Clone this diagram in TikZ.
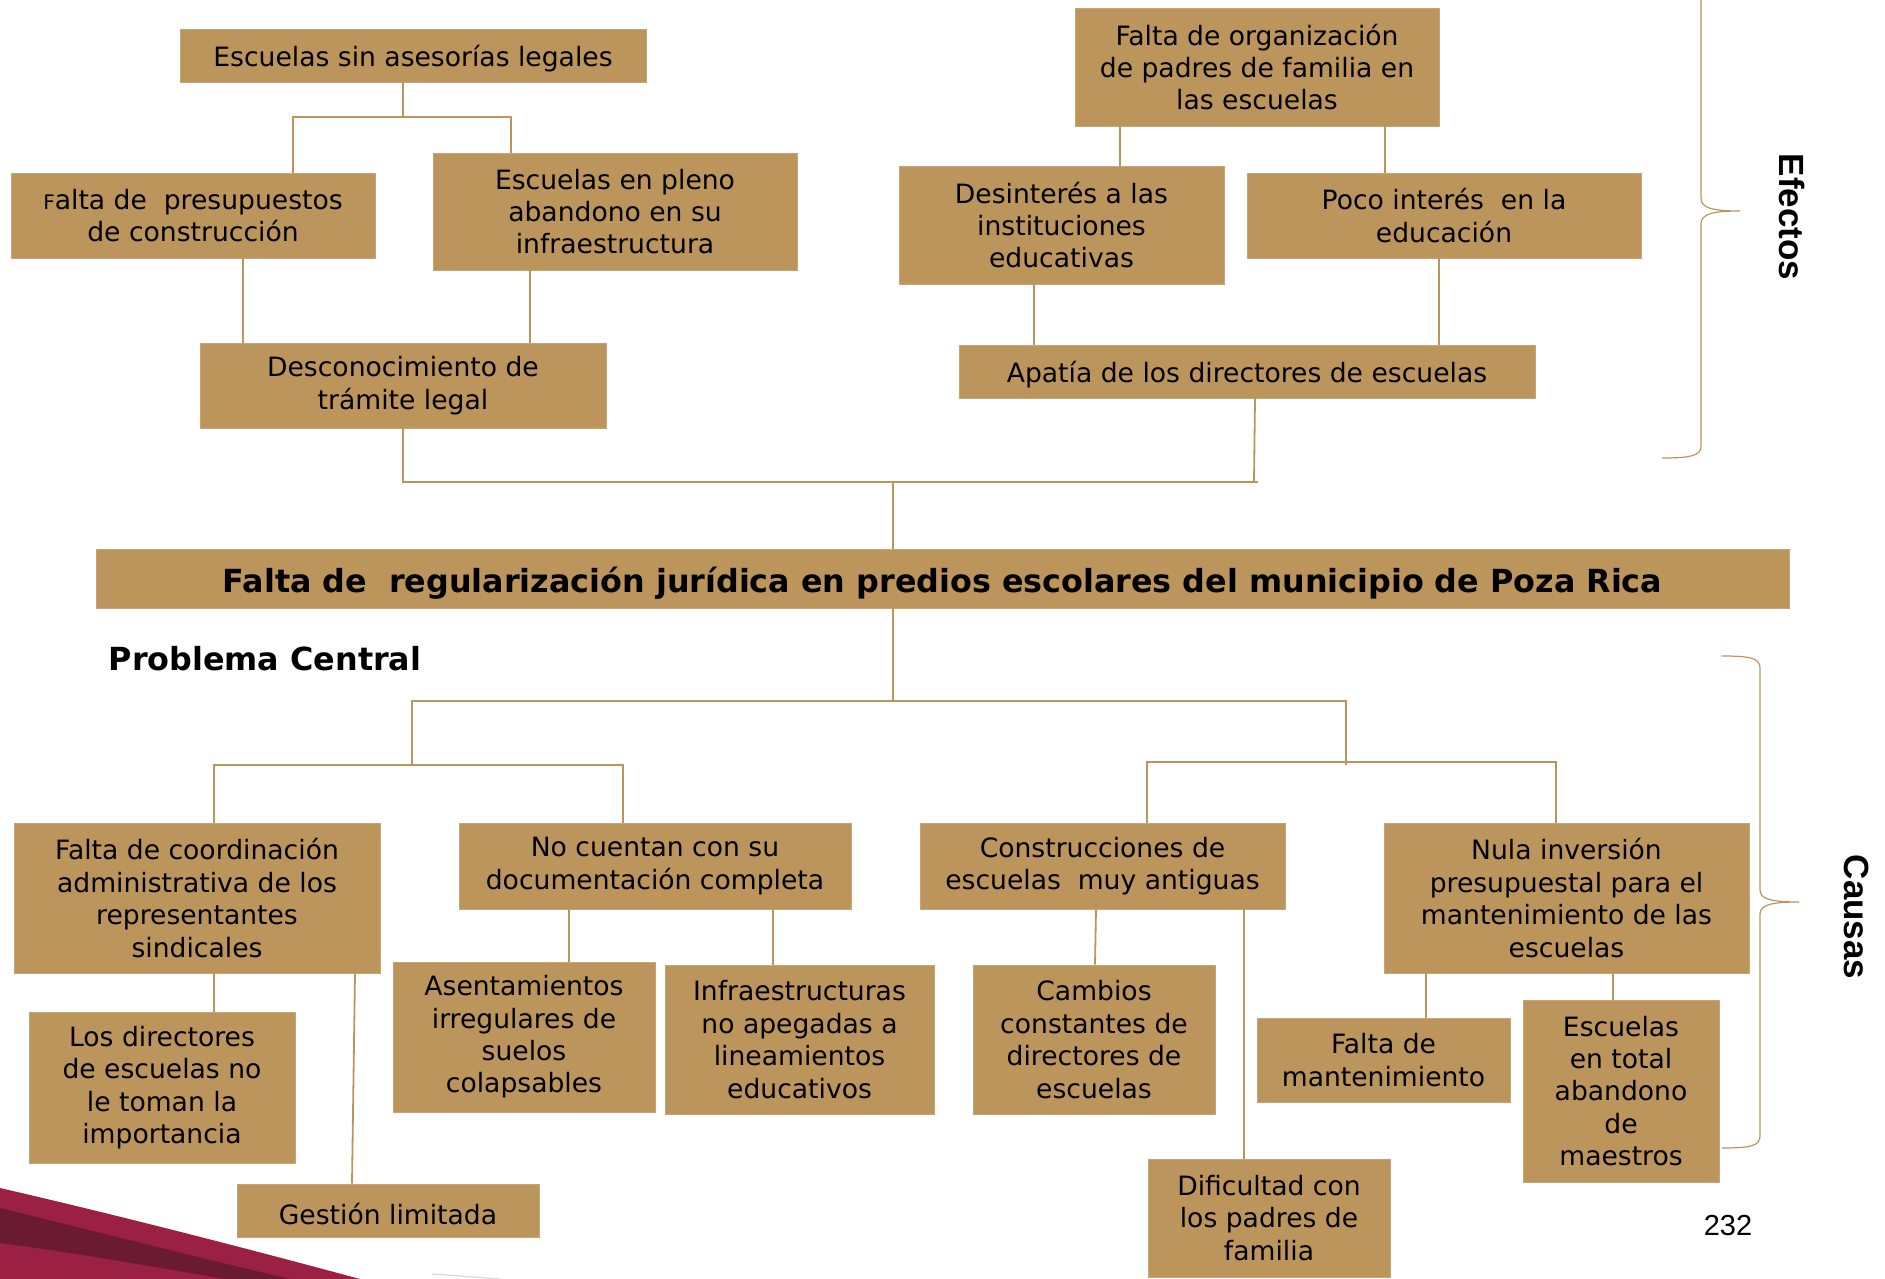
\documentclass[tikz,border=0pt]{standalone}
\usepackage{fontspec}
\setmainfont{DejaVu Sans}
\newfontfamily\arialfam{Liberation Sans}
\usetikzlibrary{calc}
\definecolor{tierra}{RGB}{188,149,93}
\definecolor{guinda}{RGB}{155,32,68}
\definecolor{vino}{RGB}{106,26,50}
\tikzset{
  caja/.style={fill=tierra,draw=tierra!85!white,line width=0.4pt,inner sep=1pt,
    align=center,text=black,font=\fontsize{13.3}{16.2}\selectfont,
    execute at begin node={\rule{0pt}{1.0em}}},
  una/.style={execute at begin node={\rule{0pt}{1.07em}}},
  enlace/.style={draw=tierra,line width=0.9pt},
  llave/.style={draw=tierra,line width=0.6pt},
  titulo/.style={font=\fontsize{15.9}{19}\selectfont\bfseries},
  lado/.style={font=\arialfam\fontsize{17.5}{20}\selectfont\bfseries,rotate=-90},
}
\begin{document}
\begin{tikzpicture}[x=0.5pt,y=-0.5pt]
  \useasboundingbox (0,0) rectangle (1885,1279);
  \clip (0,0) rectangle (1885,1279);
  % franja
  \fill[guinda] (0,1188) .. controls (130,1218) and (260,1252) .. (360,1279) -- (0,1279) -- cycle;
  \fill[vino] (0,1208) .. controls (110,1235) and (200,1258) .. (290,1279) -- (225,1279) .. controls (150,1266) and (70,1252) .. (0,1243) -- cycle;
  \draw[black!15,line width=0.6pt] (432,1274) -- (500,1279);
  % efectos
  \node[caja,una,minimum width=233pt,minimum height=26.5pt] (legal) at (413,55.5) {Escuelas sin asesorías legales};
  \node[caja,minimum width=182pt,minimum height=59pt] (organiz) at (1257,67) {Falta de organización\\de padres de familia en\\las escuelas};
  \node[caja,minimum width=182pt,minimum height=42.5pt] (presup) at (193,215.5) {{\fontsize{10}{12}\selectfont F}alta de\ \ presupuestos\\de construcción};
  \node[caja,minimum width=182pt,minimum height=58.5pt] (abandono) at (615,211.5) {Escuelas en pleno\\abandono en su\\infraestructura};
  \node[caja,minimum width=162.5pt,minimum height=59pt] (desint) at (1061.5,225) {Desinterés a las\\instituciones\\educativas};
  \node[caja,minimum width=197pt,minimum height=42.5pt] (poco) at (1444,215.5) {Poco interés\ \ en la\\educación};
  \node[caja,minimum width=203pt,minimum height=42.5pt] (tramite) at (403,385.5) {Desconocimiento de\\trámite legal};
  \node[caja,una,minimum width=288pt,minimum height=26.5pt] (apatia) at (1247,371.5) {Apatía de los directores de escuelas};
  % problema central
  \node[caja,titulo,execute at begin node={\rule{0pt}{1.1em}},minimum width=846.5pt,minimum height=29.5pt] (central) at (942.5,578.5) {Falta de\ \ regularización jurídica en predios escolares del municipio de Poza Rica};
  \node[titulo] (problema) at (265,659) {Problema Central};
  % causas
  \node[caja,minimum width=183pt,minimum height=75pt] (coord) at (197,898) {Falta de coordinación\\administrativa de los\\representantes\\sindicales};
  \node[caja,minimum width=196pt,minimum height=43pt] (docum) at (655,866) {No cuentan con su\\documentación completa};
  \node[caja,minimum width=182.5pt,minimum height=43pt] (constr) at (1102.5,866) {Construcciones de\\escuelas\ \ muy antiguas};
  \node[caja,minimum width=182.5pt,minimum height=75pt] (nula) at (1566.5,898) {Nula inversión\\presupuestal para el\\mantenimiento de las\\escuelas};
  \node[caja,minimum width=133pt,minimum height=75.5pt] (directores) at (162,1087.5) {Los directores\\de escuelas no\\le toman la\\importancia};
  \node[caja,una,minimum width=151pt,minimum height=26.5pt] (gestion) at (388,1210.5) {Gestión limitada};
  \node[caja,minimum width=131pt,minimum height=75pt] (asent) at (524,1037) {Asentamientos\\irregulares de\\suelos\\colapsables};
  \node[caja,minimum width=134.5pt,minimum height=74.5pt] (infra) at (799.5,1039.5) {Infraestructuras\\no apegadas a\\lineamientos\\educativos};
  \node[caja,minimum width=121pt,minimum height=74.5pt] (cambios) at (1094,1039.5) {Cambios\\constantes de\\directores de\\escuelas};
  \node[caja,minimum width=121pt,minimum height=59pt] (dific) at (1269,1218) {Dificultad con\\los padres de\\familia};
  \node[caja,minimum width=126.5pt,minimum height=42pt] (mant) at (1383.5,1060) {Falta de\\mantenimiento};
  \node[caja,minimum width=98pt,minimum height=91pt] (maestros) at (1621,1091) {Escuelas\\en total\\abandono\\de\\maestros};
  % enlaces
  \coordinate (busA) at (0,117);
  \coordinate (busB) at (0,482);
  \coordinate (busC) at (0,701);
  \coordinate (busL) at (0,765);
  \coordinate (busR) at (0,762);
  \draw[enlace] (legal.south -| 403,0) -- (403,0 |- busA);
  \draw[enlace] (presup.north -| 293,0) -- (293,0 |- busA) -- (511,0 |- busA) -- (abandono.north -| 511,0);
  \draw[enlace] (presup.south -| 243,0) -- (tramite.north -| 243,0);
  \draw[enlace] (abandono.south -| 530,0) -- (tramite.north -| 530,0);
  \draw[enlace] (organiz.south -| 1120,0) -- (desint.north -| 1120,0);
  \draw[enlace] (organiz.south -| 1385,0) -- (poco.north -| 1385,0);
  \draw[enlace] (desint.south -| 1034,0) -- (apatia.north -| 1034,0);
  \draw[enlace] (poco.south -| 1439,0) -- (apatia.north -| 1439,0);
  \draw[enlace] (tramite.south -| 403,0) -- (403,0 |- busB) -- (1258,0 |- busB);
  \draw[enlace] (apatia.south -| 1255,0) -- (1254,0 |- busB);
  \draw[enlace] (central.north -| 893,0) -- (893,0 |- busB);
  \draw[enlace] (central.south -| 893,0) -- (893,0 |- busC);
  \draw[enlace] (412,0 |- busL) -- (412,0 |- busC) -- (1346,0 |- busC) -- (1346,0 |- busL);
  \draw[enlace] (coord.north -| 214,0) -- (214,0 |- busL) -- (623,0 |- busL) -- (docum.north -| 623,0);
  \draw[enlace] (constr.north -| 1147,0) -- (1147,0 |- busR) -- (1556,0 |- busR) -- (nula.north -| 1556,0);
  \draw[enlace] (coord.south -| 214,0) -- (directores.north -| 214,0);
  \draw[enlace] (coord.south -| 355,0) -- (gestion.north -| 352,0);
  \draw[enlace] (docum.south -| 569,0) -- (asent.north -| 569,0);
  \draw[enlace] (docum.south -| 773,0) -- (infra.north -| 773,0);
  \draw[enlace] (constr.south -| 1096,0) -- (cambios.north -| 1095,0);
  \draw[enlace] (constr.south -| 1244,0) -- (dific.north -| 1244,0);
  \draw[enlace] (nula.south -| 1426,0) -- (mant.north -| 1426,0);
  \draw[enlace] (nula.south -| 1613,0) -- (maestros.north -| 1613,0);
  % llaves
  \draw[llave] (1662,458) .. controls (1690,458) and (1701,456) .. (1701,446) -- (1701,224) .. controls (1701,214) and (1712,211) .. (1740,211) .. controls (1712,211) and (1701,208) .. (1701,198) -- (1701,-24) .. controls (1701,-34) and (1690,-36) .. (1662,-36);
  \draw[llave] (1722,656) .. controls (1750,656) and (1760,658) .. (1760,668) -- (1760,890) .. controls (1760,899) and (1771,902) .. (1799,902) .. controls (1771,902) and (1760,905) .. (1760,914) -- (1760,1136) .. controls (1760,1146) and (1750,1148) .. (1722,1148);
  \node[lado] (efectos) at (1792,217) {Efectos};
  \node[lado] (causas) at (1857,917) {Causas};
  \node[font=\arialfam\fontsize{14.5}{17}\selectfont] (pagina) at (1728,1226) {232};
\end{tikzpicture}
\end{document}
